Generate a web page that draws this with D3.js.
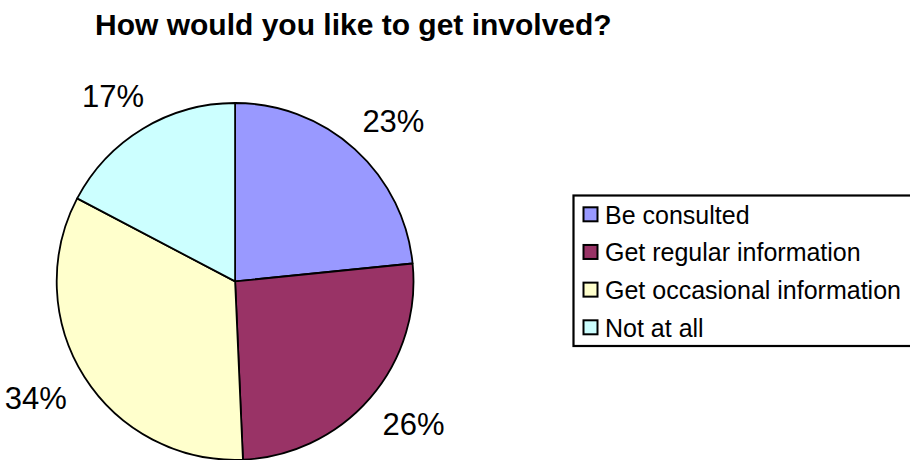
<!DOCTYPE html>
<html>
<head>
<meta charset="utf-8">
<script src="https://cdn.jsdelivr.net/npm/d3@7"></script>
<style>
  html, body { margin: 0; padding: 0; background: #fff; }
  svg { display: block; }
  text { font-family: Arial, "Liberation Sans", sans-serif; fill: #000; }
</style>
</head>
<body>
<svg id="chart" width="910" height="460"></svg>
<script>
const title = "How would you like to get involved?";
const categories = ["Be consulted", "Get regular information", "Get occasional information", "Not at all"];
const values = [23.4, 25.9, 33.4, 17.3];
const labels = ["23%", "26%", "34%", "17%"];
const colors = ["#9999FF", "#993366", "#FFFFCC", "#CCFFFF"];

const svg = d3.select("#chart");
const cx = 235.1, cy = 281.4, r = 178.4, anchorR = 205;

svg.append("text")
  .attr("x", 95).attr("y", 35)
  .attr("font-size", 30).attr("font-weight", "bold")
  .text(title);

const pie = d3.pie().sort(null).value(d => d)
  .startAngle(0).endAngle(2 * Math.PI);
const arcs = pie(values);
const arc = d3.arc().innerRadius(0).outerRadius(r);
const anchorArc = d3.arc().innerRadius(anchorR).outerRadius(anchorR);

const g = svg.append("g").attr("transform", `translate(${cx},${cy})`);
g.selectAll("path.slice").data(arcs).enter().append("path")
  .attr("class", "slice")
  .attr("d", arc)
  .attr("fill", (d, i) => colors[i])
  .attr("stroke", "#000")
  .attr("stroke-width", 1.8)
  .attr("stroke-linejoin", "round");

// labels: near edge of the label box sits on a circle outside the pie
const halfH = 12;
g.selectAll("text.lbl").data(arcs).enter().append("text")
  .attr("class", "lbl")
  .attr("text-anchor", "middle")
  .attr("dy", "0.36em")
  .attr("font-size", 31)
  .text((d, i) => labels[i])
  .each(function(d) {
    const w = this.getComputedTextLength() / 2;
    const a = (d.startAngle + d.endAngle) / 2;
    const [ax, ay] = anchorArc.centroid(d);
    const x = ax + Math.sin(a) * w;
    const y = ay - Math.cos(a) * halfH;
    d3.select(this).attr("transform", `translate(${x},${y})`);
  });

// Legend
const lg = svg.append("g");
lg.append("rect")
  .attr("x", 573.5).attr("y", 195.5)
  .attr("width", 360).attr("height", 150.5)
  .attr("fill", "#fff").attr("stroke", "#000").attr("stroke-width", 2.2);

const rowY = d3.scalePoint().domain(categories).range([214.8, 327.8]);
const items = lg.selectAll("g.item").data(categories).enter().append("g")
  .attr("class", "item")
  .attr("transform", d => `translate(0,${rowY(d)})`);
items.append("rect")
  .attr("x", 583.5).attr("y", -7.5)
  .attr("width", 14).attr("height", 14)
  .attr("fill", (d, i) => colors[i])
  .attr("stroke", "#000").attr("stroke-width", 2);
items.append("text")
  .attr("x", 605).attr("y", 0)
  .attr("dy", "0.36em")
  .attr("font-size", 25)
  .text(d => d);
</script>
</body>
</html>
